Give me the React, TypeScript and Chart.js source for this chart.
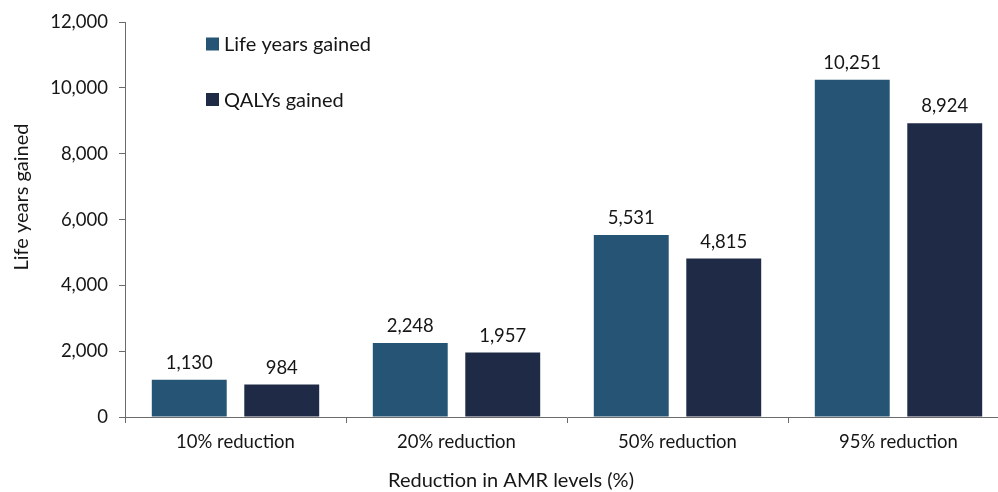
import React, { useEffect, useRef } from "react";
import { Chart, registerables } from "chart.js";

Chart.register(...registerables);

const categories = ["10% reduction", "20% reduction", "50% reduction", "95% reduction"];
const lifeYearsGained = [1130, 2248, 5531, 10251];
const qalysGained = [984, 1957, 4815, 8924];
const seriesNames = ["Life years gained", "QALYs gained"];
const seriesColors = ["#255475", "#1f2a47"];
const yMax = 12000;
const yStep = 2000;
const xTitle = "Reduction in AMR levels (%)";
const yTitle = "Life years gained";

const FONT = "Lato, 'Noto Sans', sans-serif";
const TEXT = "#161616";
const AXIS = "#6b6b6b";

const fmt = (v: number) => v.toLocaleString("en-US");

// Value labels above each bar, custom legend block and axis titles
const annotate = {
  id: "annotate",
  afterDatasetsDraw(chart: any) {
    const ctx = chart.ctx;
    ctx.save();
    ctx.fillStyle = TEXT;
    ctx.font = `18.5px ${FONT}`;
    ctx.textAlign = "center";
    ctx.textBaseline = "alphabetic";
    chart.data.datasets.forEach((ds: any, di: number) => {
      const meta = chart.getDatasetMeta(di);
      meta.data.forEach((bar: any, i: number) => {
        ctx.fillText(fmt(ds.data[i]), bar.x, bar.y - 11);
      });
    });

    // legend
    ctx.font = `20px ${FONT}`;
    ctx.textAlign = "left";
    ctx.textBaseline = "middle";
    const rows = [44, 99.5];
    chart.data.datasets.forEach((ds: any, di: number) => {
      const y = rows[di];
      ctx.fillStyle = ds.backgroundColor;
      ctx.fillRect(206, y - 6.5, 13, 13);
      ctx.fillStyle = TEXT;
      ctx.fillText(ds.label, 224, y + 1);
    });

    // axis titles
    ctx.font = `20px ${FONT}`;
    ctx.textAlign = "center";
    ctx.textBaseline = "alphabetic";
    ctx.fillText(xTitle, 511, 487);
    ctx.save();
    ctx.translate(28, 197);
    ctx.rotate(-Math.PI / 2);
    ctx.fillText(yTitle, 0, 0);
    ctx.restore();
    ctx.restore();
  },
};

function BarChart() {
  const ref = useRef<HTMLCanvasElement | null>(null);
  useEffect(() => {
    if (!ref.current) return;
    const chart = new Chart(ref.current, {
      type: "bar",
      data: {
        labels: categories,
        datasets: [
          { label: seriesNames[0], data: lifeYearsGained, backgroundColor: seriesColors[0] },
          { label: seriesNames[1], data: qalysGained, backgroundColor: seriesColors[1] },
        ],
      },
      options: {
        animation: false,
        responsive: false,
        devicePixelRatio: 1,
        layout: { padding: { left: 0, right: 21, top: 20, bottom: 0 } },
        datasets: {
          bar: { categoryPercentage: 0.837, barPercentage: 0.81 },
        },
        plugins: { legend: { display: false }, tooltip: { enabled: false }, title: { display: false } },
        scales: {
          x: {
            grid: {
              offset: true,
              drawOnChartArea: false,
              drawTicks: true,
              tickLength: 6,
              color: AXIS,
            },
            border: { display: true, color: AXIS, width: 1 },
            ticks: { color: TEXT, font: { family: FONT, size: 18.5 }, padding: 8, maxRotation: 0 },
            afterFit: (s: any) => {
              s.height = 75;
            },
          },
          y: {
            min: 0,
            max: yMax,
            grid: { drawOnChartArea: false, drawTicks: true, tickLength: 6, color: AXIS },
            border: { display: true, color: AXIS, width: 1 },
            ticks: {
              stepSize: yStep,
              color: TEXT,
              font: { family: FONT, size: 18.5 },
              padding: 11,
              callback: (v: any) => fmt(Number(v)),
            },
            afterFit: (s: any) => {
              s.width = 125;
            },
          },
        },
      },
      plugins: [annotate],
    });
    return () => chart.destroy();
  }, []);
  return <canvas ref={ref} width={1030} height={492} style={{ display: "block" }} />;
}

export default function App() {
  return (
    <div
      style={{
        position: "fixed",
        left: 0,
        top: 0,
        width: 998,
        height: 492,
        overflow: "hidden",
        background: "#ffffff",
      }}
    >
      <BarChart />
    </div>
  );
}
